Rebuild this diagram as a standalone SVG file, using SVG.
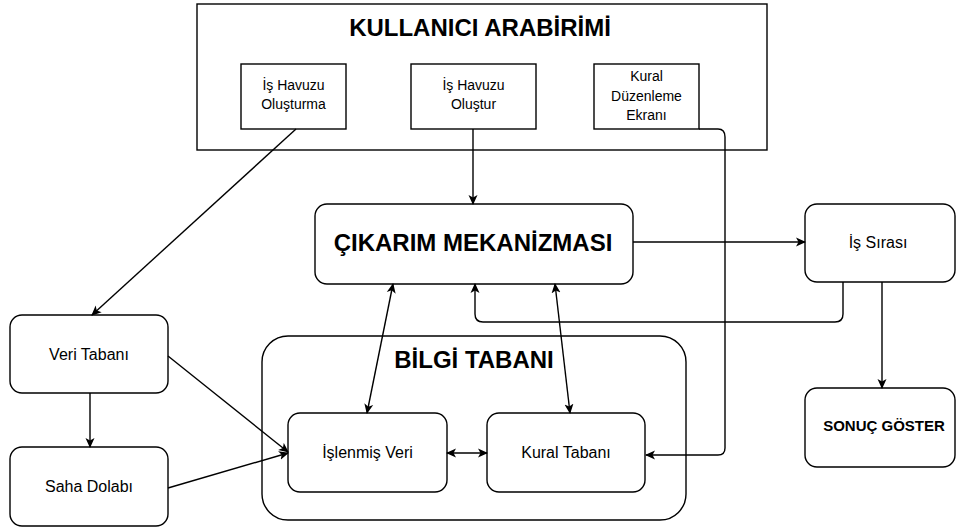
<svg xmlns="http://www.w3.org/2000/svg" width="957" height="528" viewBox="0 0 957 528">
<defs>
<marker id="ah" viewBox="0 0 10 10" refX="9" refY="5" markerWidth="10" markerHeight="10" markerUnits="userSpaceOnUse" orient="auto-start-reverse">
<path d="M0,0.5 L10,5 L0,9.5 L2.5,5 z" fill="#000"/>
</marker>
<style>
.box{fill:#fff;stroke:#000;stroke-width:1.4}
.t{font-family:"Liberation Sans",Arial,sans-serif;font-size:16px;fill:#000;text-anchor:middle}
.s{font-family:"Liberation Sans",Arial,sans-serif;font-size:14px;fill:#000;text-anchor:middle}
.tb{font-family:"Liberation Sans",Arial,sans-serif;font-weight:bold;fill:#000;text-anchor:middle}
.c{fill:none;stroke:#000;stroke-width:1.4}
</style>
</defs>
<rect width="957" height="528" fill="#fff"/>
<g id="kullanici">
<rect class="box" x="197" y="4" width="570" height="146"/>
<text class="tb" x="480" y="36" font-size="24">KULLANICI ARABİRİMİ</text>
</g>
<g id="ihavuzu-olusturma">
<rect class="box" x="241" y="64" width="105" height="65"/>
<text class="s" x="293.5" y="90">İş Havuzu</text>
<text class="s" x="293.5" y="109">Oluşturma</text>
</g>
<g id="ihavuzu-olustur">
<rect class="box" x="411" y="64" width="125" height="65"/>
<text class="s" x="473.5" y="90">İş Havuzu</text>
<text class="s" x="473.5" y="109">Oluştur</text>
</g>
<g id="kural-duzenleme">
<rect class="box" x="594" y="64" width="105" height="65"/>
<text class="s" x="646.5" y="81">Kural</text>
<text class="s" x="646.5" y="101">Düzenleme</text>
<text class="s" x="646.5" y="120">Ekranı</text>
</g>
<g id="bilgi-tabani">
<rect class="box" x="262" y="336" width="424" height="184" rx="26"/>
<text class="tb" x="474" y="368" font-size="24">BİLGİ TABANI</text>
</g>
<g id="cikarim">
<rect class="box" x="315" y="204" width="318" height="80" rx="12"/>
<text class="tb" x="473" y="251" font-size="24">ÇIKARIM MEKANİZMASI</text>
</g>
<g id="is-sirasi">
<rect class="box" x="805" y="204" width="150" height="78" rx="12"/>
<text class="t" x="878" y="248">İş Sırası</text>
</g>
<g id="sonuc">
<rect class="box" x="805" y="388" width="150" height="79" rx="12"/>
<text class="tb" x="884" y="431" font-size="15">SONUÇ GÖSTER</text>
</g>
<g id="veri-tabani">
<rect class="box" x="10" y="315" width="158" height="78" rx="12"/>
<text class="t" x="89" y="360">Veri Tabanı</text>
</g>
<g id="saha-dolabi">
<rect class="box" x="10" y="447" width="158" height="79" rx="12"/>
<text class="t" x="89" y="492">Saha Dolabı</text>
</g>
<g id="islenmis-veri">
<rect class="box" x="288" y="413" width="159" height="79" rx="12"/>
<text class="t" x="367.5" y="458">İşlenmiş Veri</text>
</g>
<g id="kural-tabani">
<rect class="box" x="487" y="413" width="158" height="79" rx="12"/>
<text class="t" x="566" y="458">Kural Tabanı</text>
</g>
<g id="connectors">
<path class="c" d="M296,129 L92,315" marker-end="url(#ah)"/>
<path class="c" d="M473,129 L473,204" marker-end="url(#ah)"/>
<path class="c" d="M699,129 L718,129 Q725,129 725,137 L725,448 Q725,455 718,455 L646,455" marker-end="url(#ah)"/>
<path class="c" d="M633,242 L805,242" marker-end="url(#ah)"/>
<path class="c" d="M843,282 L843,314 Q843,322 835,322 L483,322 Q475,322 475,314 L475,284" marker-end="url(#ah)"/>
<path class="c" d="M882,282 L882,388" marker-end="url(#ah)"/>
<path class="c" d="M393,284 L367,413" marker-start="url(#ah)" marker-end="url(#ah)"/>
<path class="c" d="M555,284 L570,413" marker-start="url(#ah)" marker-end="url(#ah)"/>
<path class="c" d="M447,453 L487,453" marker-start="url(#ah)" marker-end="url(#ah)"/>
<path class="c" d="M168,356 L288,452" marker-end="url(#ah)"/>
<path class="c" d="M168,488 L288,453" marker-end="url(#ah)"/>
<path class="c" d="M90,393 L90,447" marker-end="url(#ah)"/>
</g>
</svg>
